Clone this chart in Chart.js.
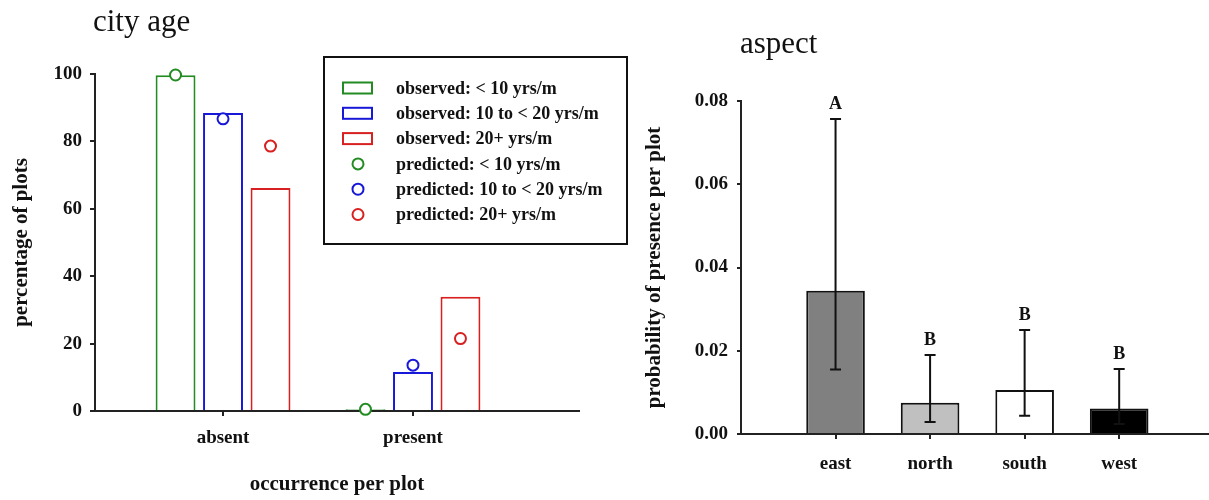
<!DOCTYPE html>
<html><head><meta charset="utf-8">
<script src="https://cdn.jsdelivr.net/npm/chart.js@4"></script>
<style>
html,body{margin:0;padding:0;background:#fff;overflow:hidden;width:1209px;height:500px;}
canvas{position:absolute;top:0;}
#c1{left:0;}
#c2{left:640px;}
</style></head><body>
<canvas id="c1" width="640" height="500"></canvas>
<canvas id="c2" width="569" height="500"></canvas>
<script>
// ---------- data: city age ----------
const occurrence = ['absent', 'present'];
const ageGroups = ['< 10 yrs/m', '10 to < 20 yrs/m', '20+ yrs/m'];
const observedLt10 = [99.6, 0.5];
const observed10to20 = [88.4, 11.6];
const observed20plus = [66.2, 33.9];
const predictedLt10 = [99.7, 0.5];
const predicted10to20 = [86.7, 13.6];
const predicted20plus = [78.6, 21.5];
const yTicksLeft = [0, 20, 40, 60, 80, 100];

// ---------- data: aspect ----------
const aspects = ['east', 'north', 'south', 'west'];
const presenceProb = [0.0344, 0.0075, 0.0106, 0.0061];
const ciLower = [0.0155, 0.0029, 0.0044, 0.0024];
const ciUpper = [0.0757, 0.0190, 0.0250, 0.0156];
const groupLetters = ['A', 'B', 'B', 'B'];
const yTicksRight = [0, 0.02, 0.04, 0.06, 0.08];

const SERIF = "'Liberation Serif', 'Times New Roman', serif";
const INK = '#111';
const AXIS = '#222';
const seriesColors = ['#228b22', '#1818d8', '#d82020'];
const aspectFills = ['#808080', '#c0c0c0', '#ffffff', '#000000'];
const CAT_PCT = 0.75, BAR_PCT = 0.84;

const observed = [observedLt10, observed10to20, observed20plus];
const predicted = [predictedLt10, predicted10to20, predicted20plus];
const pts = (arr, shift) => arr.map((v, i) => ({x: i + shift, y: v}));

const titlePlugin = (text, x, y) => ({
  id: 'panelTitle',
  afterDraw(chart) {
    const ctx = chart.ctx;
    ctx.save();
    ctx.font = `31px ${SERIF}`;
    ctx.fillStyle = INK;
    ctx.textBaseline = 'middle';
    ctx.textAlign = 'left';
    ctx.fillText(text, x, y);
    ctx.restore();
  }
});

const boxLegend = {
  id: 'boxLegend',
  afterDraw(chart) {
    const ctx = chart.ctx;
    ctx.save();
    ctx.fillStyle = '#fff';
    ctx.fillRect(324, 57, 303, 187);
    ctx.strokeStyle = INK;
    ctx.lineWidth = 2;
    ctx.strokeRect(324, 57, 303, 187);
    ctx.font = `bold 18px ${SERIF}`;
    ctx.textBaseline = 'middle';
    ctx.textAlign = 'left';
    chart.data.datasets.forEach((ds, r) => {
      const y = 88 + r * 25.3;
      ctx.strokeStyle = ds.borderColor;
      ctx.lineWidth = 2;
      if (ds.type === 'bar') {
        ctx.strokeRect(343, y - 5.5, 29, 11);
      } else {
        ctx.beginPath();
        ctx.arc(358, y, 5.5, 0, Math.PI * 2);
        ctx.stroke();
      }
      ctx.fillStyle = INK;
      ctx.fillText(ds.label, 396, y + 1);
    });
    ctx.restore();
  }
};

const errorBars = {
  id: 'errorBars',
  afterDatasetsDraw(chart) {
    const ctx = chart.ctx;
    const ys = chart.scales.y;
    const meta = chart.getDatasetMeta(0);
    ctx.save();
    ctx.strokeStyle = INK;
    ctx.lineWidth = 2;
    ctx.fillStyle = INK;
    ctx.font = `bold 18px ${SERIF}`;
    ctx.textAlign = 'center';
    ctx.textBaseline = 'alphabetic';
    meta.data.forEach((bar, i) => {
      const x = bar.x;
      const yl = ys.getPixelForValue(ciLower[i]);
      const yu = ys.getPixelForValue(ciUpper[i]);
      ctx.beginPath();
      ctx.moveTo(x, yl); ctx.lineTo(x, yu);
      ctx.moveTo(x - 5.5, yl); ctx.lineTo(x + 5.5, yl);
      ctx.moveTo(x - 5.5, yu); ctx.lineTo(x + 5.5, yu);
      ctx.stroke();
      ctx.fillText(groupLetters[i], x, yu - 10);
    });
    ctx.restore();
  }
};

const axisCommon = (tickLen) => ({
  grid: {drawOnChartArea: false, drawTicks: true, tickLength: tickLen, color: AXIS, lineWidth: 2, offset: false},
  border: {color: AXIS, width: 2}
});

// ---------- left chart ----------
new Chart(document.getElementById('c1'), {
  type: 'bar',
  data: {
    datasets: observed.map((arr, k) => ({
      type: 'bar',
      label: 'observed: ' + ageGroups[k],
      data: pts(arr, 0),
      backgroundColor: '#fff',
      borderColor: seriesColors[k],
      borderWidth: 2,
      categoryPercentage: CAT_PCT,
      barPercentage: BAR_PCT,
      order: 1
    })).concat(predicted.map((arr, k) => ({
      type: 'scatter',
      label: 'predicted: ' + ageGroups[k],
      data: pts(arr, (k - 1) * CAT_PCT / 3),
      showLine: false,
      pointRadius: 5.5,
      pointBorderWidth: 2,
      borderColor: seriesColors[k],
      backgroundColor: '#fff',
      clip: false,
      order: 0
    })))
  },
  options: {
    responsive: false,
    animation: false,
    layout: {padding: {left: 0, top: 74, right: 61, bottom: 0}},
    plugins: {legend: {display: false}, tooltip: {enabled: false}},
    scales: {
      x: Object.assign({
        type: 'linear', min: -0.674, max: 1.874, offset: false,
        afterBuildTicks: s => { s.ticks = occurrence.map((_, i) => ({value: i})); },
        afterFit: s => { s.height = 89; },
        ticks: {callback: v => occurrence[v], color: INK, font: {family: SERIF, size: 19, weight: 'bold'}, padding: 11, autoSkip: false, maxRotation: 0},
        title: {display: true, text: 'occurrence per plot', color: INK, font: {family: SERIF, size: 21, weight: 'bold'}, padding: {top: 0, bottom: 3}}
      }, axisCommon(5)),
      y: Object.assign({
        type: 'linear', min: 0, max: 100,
        afterBuildTicks: s => { s.ticks = yTicksLeft.map(v => ({value: v})); },
        afterFit: s => { s.width = 95; },
        ticks: {color: INK, font: {family: SERIF, size: 19, weight: 'bold'}, padding: 8},
        title: {display: true, text: 'percentage of plots', color: INK, font: {family: SERIF, size: 21, weight: 'bold'}, padding: {top: 9, bottom: 0}}
      }, axisCommon(5))
    }
  },
  plugins: [titlePlugin('city age', 93, 23), boxLegend]
});

// ---------- right chart ----------
new Chart(document.getElementById('c2'), {
  type: 'bar',
  data: {
    datasets: [{
      label: 'probability of presence per plot',
      data: pts(presenceProb, 0),
      backgroundColor: aspectFills,
      borderColor: INK,
      borderWidth: 2,
      borderSkipped: 'start',
      categoryPercentage: 1,
      barPercentage: 0.62
    }]
  },
  options: {
    responsive: false,
    animation: false,
    layout: {padding: {left: 0, top: 101, right: 0, bottom: 0}},
    plugins: {legend: {display: false}, tooltip: {enabled: false}},
    scales: {
      x: Object.assign({
        type: 'linear', min: -1, max: 3.95, offset: false,
        afterBuildTicks: s => { s.ticks = aspects.map((_, i) => ({value: i})); },
        afterFit: s => { s.height = 66; },
        ticks: {callback: v => aspects[v], color: INK, font: {family: SERIF, size: 19, weight: 'bold'}, padding: 14, autoSkip: false, maxRotation: 0}
      }, axisCommon(5)),
      y: Object.assign({
        type: 'linear', min: 0, max: 0.08,
        afterBuildTicks: s => { s.ticks = yTicksRight.map(v => ({value: v})); },
        afterFit: s => { s.width = 101; },
        ticks: {callback: v => v.toFixed(2), color: INK, font: {family: SERIF, size: 19, weight: 'bold'}, padding: 9},
        title: {display: true, text: 'probability of presence per plot', color: INK, font: {family: SERIF, size: 21, weight: 'bold'}, padding: {top: 2, bottom: 0}}
      }, axisCommon(4))
    }
  },
  plugins: [titlePlugin('aspect', 100, 45), errorBars]
});
</script>
</body></html>
